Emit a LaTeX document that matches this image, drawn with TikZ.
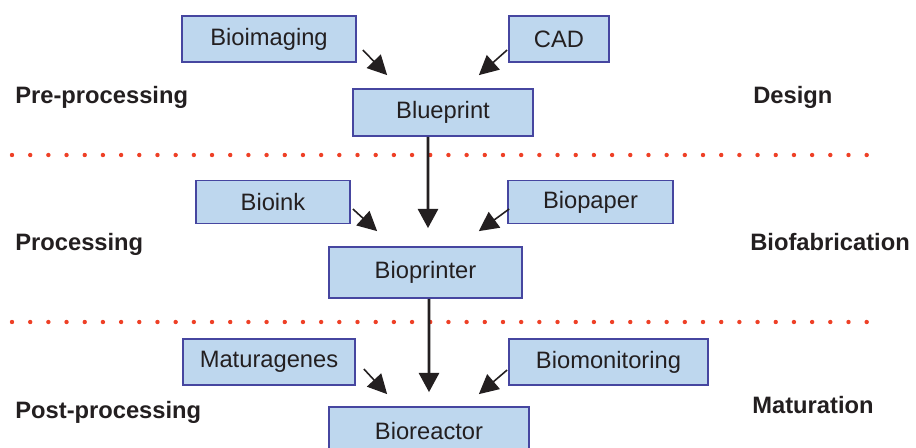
\documentclass[tikz,border=0pt]{standalone}
\usepackage{fontspec}
\setmainfont{Liberation Sans}
\usetikzlibrary{arrows.meta}

\definecolor{boxfill}{RGB}{190,215,238}
\definecolor{boxline}{RGB}{70,70,160}
\definecolor{inktext}{RGB}{35,31,32}
\definecolor{dotred}{RGB}{238,64,38}

\begin{document}
\begin{tikzpicture}[x=0.02cm, y=-0.02cm,
  font=\fontsize{13.5}{16}\selectfont, text=inktext,
  stagebox/.style={draw=boxline, fill=boxfill, line width=1pt, inner sep=0pt, minimum height=0.92cm},
  phase/.style={anchor=base west, inner sep=0pt, font=\fontsize{13.5}{16}\selectfont\bfseries},
  feed/.style={inktext, line width=0.9pt, -{Triangle[length=11pt, width=11pt]}},
  flow/.style={inktext, line width=1.5pt, -{Triangle[length=11pt, width=11.5pt]}},
  divider/.style={dotred, line width=2.5pt, line cap=round, dash pattern=on 0pt off 10.35pt}]

  \useasboundingbox (0,0) rectangle (916,447);

  % dotted separators between the stages
  \draw[divider] (12,155) -- (870,155);
  \draw[divider] (12,322) -- (870,322);

  % stage names on both sides
  \node[phase] (preproc) at (15,103) {Pre-processing};
  \node[phase] (design) at (753,103) {Design};
  \node[phase] (proc) at (15,250) {Processing};
  \node[phase] (biofab) at (750,250) {Biofabrication};
  \node[phase] (postproc) at (15,418) {Post-processing};
  \node[phase] (maturation) at (752,413) {Maturation};

  % design stage
  \node[stagebox, minimum width=3.48cm] (bioimaging) at (269,39) {Bioimaging};
  \node[stagebox, minimum width=2.0cm] (cad) at (559,39) {CAD};
  \node[stagebox, minimum width=3.6cm, minimum height=0.94cm] (blueprint) at (443,112.5) {Blueprint};

  % biofabrication stage
  \node[stagebox, minimum width=3.08cm, minimum height=0.86cm] (bioink) at (273,202) {Bioink};
  \node[stagebox, minimum width=3.3cm, minimum height=0.86cm] (biopaper) at (590.5,202) {Biopaper};
  \node[stagebox, minimum width=3.86cm, minimum height=1.02cm] (bioprinter) at (425.5,272.5) {Bioprinter};

  % maturation stage
  \node[stagebox, minimum width=3.44cm] (maturagenes) at (269,362) {Maturagenes};
  \node[stagebox, minimum width=3.98cm] (biomonitoring) at (608.5,362) {Biomonitoring};
  \node[stagebox, minimum width=4.0cm, minimum height=0.96cm] (bioreactor) at (429,431) {Bioreactor};

  % inputs into each stage
  \draw[feed] ([shift={(6,11)}]bioimaging.east) -- ([shift={(35,-13)}]blueprint.north west);
  \draw[feed] ([shift={(-1,11)}]cad.west) -- ([shift={(-55,-13)}]blueprint.north east);
  \draw[feed] ([shift={(2,7)}]bioink.east) -- ([shift={(49,-15)}]bioprinter.north west);
  \draw[feed] ([shift={(2,7)}]biopaper.west) -- ([shift={(-44,-15)}]bioprinter.north east);
  \draw[feed] ([shift={(8,7)}]maturagenes.east) -- ([shift={(59,-12)}]bioreactor.north west);
  \draw[feed] ([shift={(-1,8)}]biomonitoring.west) -- ([shift={(-51,-12)}]bioreactor.north east);

  % main flow down through the stages
  \draw[flow] ([shift={(-15,0)}]blueprint.south) -- ([shift={(2.5,-18)}]bioprinter.north);
  \draw[flow] ([shift={(3.5,0)}]bioprinter.south) -- ([shift={(0,-14)}]bioreactor.north);

\end{tikzpicture}
\end{document}
